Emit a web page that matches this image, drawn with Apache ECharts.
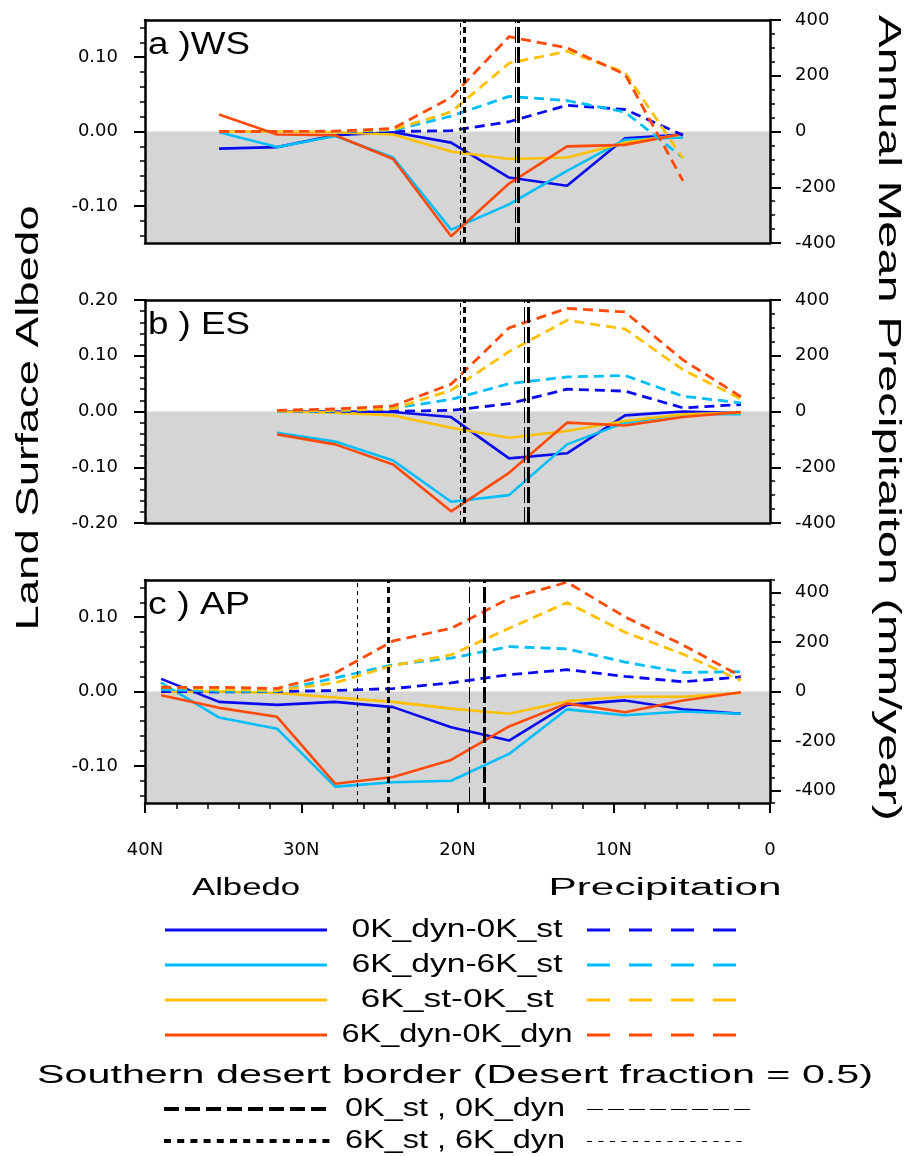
<!DOCTYPE html>
<html><head><meta charset="utf-8">
<script src="https://cdn.jsdelivr.net/npm/echarts@6/dist/echarts.min.js"></script>
<style>html,body{margin:0;padding:0;background:#fff}#c{width:907px;height:1156px}</style>
</head><body><div id="c"></div><script>
// ---------------- DATA ----------------
const lats = [38.97, 35.26, 31.55, 27.83, 24.12, 20.41, 16.70, 12.99, 9.28, 5.57, 1.86];

// a) WS  - land surface albedo differences
const wsAlb_0Kdyn_0Kst  = [null, -0.023, -0.021, -0.005, -0.001, -0.015, -0.062, -0.073, -0.009, -0.004, null];
const wsAlb_6Kdyn_6Kst  = [null, -0.001, -0.021, -0.006, -0.035, -0.132, -0.098, -0.053, -0.011, -0.008, null];
const wsAlb_6Kst_0Kst   = [null,  0.000,  0.000, -0.001, -0.004, -0.027, -0.037, -0.035, -0.015, -0.004, null];
const wsAlb_6Kdyn_0Kdyn = [null,  0.023, -0.004, -0.005, -0.037, -0.141, -0.070, -0.020, -0.018, -0.003, null];
// a) WS  - annual mean precipitation differences (mm/year)
const wsPre_0Kdyn_0Kst  = [null, 0, 0, 0,  0,   3,  35,  94,  79,  -13, null];
const wsPre_6Kdyn_6Kst  = [null, 0, 0, 0,  4,  55, 126, 111,  70,  -94, null];
const wsPre_6Kst_0Kst   = [null, 0, 0, 0,  7,  70, 245, 288, 212,  -96, null];
const wsPre_6Kdyn_0Kdyn = [null, 0, 0, 1, 11, 122, 340, 300, 205, -177, null];

// b) ES
const esAlb_0Kdyn_0Kst  = [null, null,  0.000,  0.000, -0.001, -0.010, -0.084, -0.075, -0.007,  0.000, -0.003];
const esAlb_6Kdyn_6Kst  = [null, null, -0.038, -0.054, -0.088, -0.162, -0.150, -0.059, -0.020, -0.005, -0.005];
const esAlb_6Kst_0Kst   = [null, null,  0.000, -0.002, -0.007, -0.029, -0.047, -0.035, -0.017, -0.005, -0.002];
const esAlb_6Kdyn_0Kdyn = [null, null, -0.041, -0.059, -0.095, -0.179, -0.110, -0.020, -0.025, -0.010, -0.001];
const esPre_0Kdyn_0Kst  = [null, null, 0, 0,  1,  4,  28,  80,  73,  13, 25];
const esPre_6Kdyn_6Kst  = [null, null, 0, 1, 12, 43, 100, 124, 129,  55, 31];
const esPre_6Kst_0Kst   = [null, null, 1, 4, 10, 76, 215, 327, 296, 150, 45];
const esPre_6Kdyn_0Kdyn = [null, null, 4, 9, 20, 98, 300, 370, 357, 185, 53];

// c) AP
const apAlb_0Kdyn_0Kst  = [ 0.017, -0.014, -0.018, -0.014, -0.021, -0.048, -0.066, -0.018, -0.012, -0.024, -0.030];
const apAlb_6Kdyn_6Kst  = [ 0.012, -0.035, -0.050, -0.128, -0.122, -0.120, -0.084, -0.024, -0.032, -0.027, -0.030];
const apAlb_6Kst_0Kst   = [-0.001,  0.000, -0.002, -0.008, -0.014, -0.023, -0.030, -0.013, -0.007, -0.007, -0.002];
const apAlb_6Kdyn_0Kdyn = [-0.005, -0.022, -0.034, -0.124, -0.115, -0.092, -0.047, -0.016, -0.028, -0.012, -0.001];
const apPre_0Kdyn_0Kst  = [ 0, -2,  0,  4,  12,  35,  68,  88,  61,  39, 59];
const apPre_6Kdyn_6Kst  = [ 8,  1,  1, 55, 108, 135, 181, 172, 119,  77, 80];
const apPre_6Kst_0Kst   = [19,  8,  4, 35, 105, 148, 255, 359, 239, 151, 44];
const apPre_6Kdyn_0Kdyn = [17, 17, 12, 75, 204, 255, 375, 441, 301, 188, 61];

// southern desert border latitude (desert fraction = 0.5), panels a, b, c
const border0Kst  = [16.10, 15.47, 18.28];
const border0Kdyn = [16.32, 15.74, 19.26];
const border6Kst  = [19.58, 19.58, 24.43];
const border6Kdyn = [19.84, 19.84, 26.41];

// ticks / labels
const panelLabels = ['a )WS', 'b ) ES', 'c ) AP'];
const xTickValues = [40, 30, 20, 10, 0];
const xTickLabels = ['40N', '30N', '20N', '10N', '0'];
const albedoTicks = [[-0.10, 0.00, 0.10], [-0.20, -0.10, 0.00, 0.10, 0.20], [-0.10, 0.00, 0.10]];
const albedoRange = [[-0.15, 0.15], [-0.20, 0.20], [-0.15, 0.15]];
const precipTicks = [-400, -200, 0, 200, 400];
const precipRange = [[-400, 400], [-400, 400], [-450, 450]];
const seriesNames = ['0K_dyn-0K_st', '6K_dyn-6K_st', '6K_st-0K_st', '6K_dyn-0K_dyn'];
const seriesColors = ['#0a0aee', '#00bdfb', '#ffc000', '#ff4a0a'];

const panels = [
  {alb: [wsAlb_0Kdyn_0Kst, wsAlb_6Kdyn_6Kst, wsAlb_6Kst_0Kst, wsAlb_6Kdyn_0Kdyn],
   pre: [wsPre_0Kdyn_0Kst, wsPre_6Kdyn_6Kst, wsPre_6Kst_0Kst, wsPre_6Kdyn_0Kdyn]},
  {alb: [esAlb_0Kdyn_0Kst, esAlb_6Kdyn_6Kst, esAlb_6Kst_0Kst, esAlb_6Kdyn_0Kdyn],
   pre: [esPre_0Kdyn_0Kst, esPre_6Kdyn_6Kst, esPre_6Kst_0Kst, esPre_6Kdyn_0Kdyn]},
  {alb: [apAlb_0Kdyn_0Kst, apAlb_6Kdyn_6Kst, apAlb_6Kst_0Kst, apAlb_6Kdyn_0Kdyn],
   pre: [apPre_0Kdyn_0Kst, apPre_6Kdyn_6Kst, apPre_6Kst_0Kst, apPre_6Kdyn_0Kdyn]}
];

// ---------------- LAYOUT ----------------
const PLOT_LEFT = 145, PLOT_W = 625, PLOT_H = 223;
const PLOT_TOPS = [20, 300, 580];
const TICK_FONT = '"DejaVu Sans", sans-serif';
const NARROW = '"Liberation Sans Narrow", "Liberation Sans", sans-serif';
const HELV = '"Liberation Sans", Arial, sans-serif';

function steps(min, max, step) {
  const out = [];
  for (let k = Math.ceil(min / step - 1e-9); k <= Math.floor(max / step + 1e-9); k++) out.push(+(k * step).toFixed(6));
  return out;
}

const grids = PLOT_TOPS.map(t => ({left: PLOT_LEFT, top: t, width: PLOT_W, height: PLOT_H, containLabel: false}));

const xAxes = [];
const yAxes = [];
const series = [];
const xMain = [];
const axisLineStyle = {color: '#000', width: 2.5};

for (let g = 0; g < 3; g++) {
  const last = g === 2;
  xMain[g] = xAxes.length;
  xAxes.push({
    type: 'value', gridIndex: g, position: 'bottom', min: 0, max: 40, inverse: true, z: 10,
    axisLine: {show: true, onZero: false, lineStyle: axisLineStyle},
    axisTick: {show: last, inside: false, length: 10, customValues: xTickValues, lineStyle: {color: '#000', width: 2}},
    axisLabel: {show: last, customValues: xTickValues, margin: 38, color: '#000', fontSize: 18, fontFamily: TICK_FONT,
      formatter: v => xTickLabels[xTickValues.indexOf(v)]},
    splitLine: {show: false}
  });
  xAxes.push({
    type: 'value', gridIndex: g, position: 'top', min: 0, max: 40, inverse: true, z: 10,
    axisLine: {show: true, onZero: false, lineStyle: axisLineStyle},
    axisTick: {show: false}, axisLabel: {show: false}, splitLine: {show: false}
  });
  if (last) {
    xAxes.push({
      type: 'value', gridIndex: g, position: 'bottom', min: 0, max: 40, inverse: true, z: 10,
      axisLine: {show: false, onZero: false},
      axisTick: {show: true, inside: false, length: 6, customValues: steps(0, 40, 2), lineStyle: {color: '#000', width: 1.5}},
      axisLabel: {show: false}, splitLine: {show: false}
    });
  }
  // left albedo axis (major + minor)
  const yL = yAxes.length;
  yAxes.push({
    type: 'value', gridIndex: g, position: 'left', min: albedoRange[g][0], max: albedoRange[g][1], z: 10,
    axisLine: {show: true, onZero: false, lineStyle: axisLineStyle},
    axisTick: {show: true, inside: false, length: 11, customValues: albedoTicks[g], lineStyle: {color: '#000', width: 2}},
    axisLabel: {show: true, customValues: albedoTicks[g], margin: 27, color: '#000', fontSize: 18, fontFamily: TICK_FONT,
      formatter: v => v.toFixed(2)},
    splitLine: {show: false}
  });
  yAxes.push({
    type: 'value', gridIndex: g, position: 'left', min: albedoRange[g][0], max: albedoRange[g][1], z: 10,
    axisLine: {show: false, onZero: false},
    axisTick: {show: true, inside: false, length: 5, customValues: steps(albedoRange[g][0], albedoRange[g][1], 0.02), lineStyle: {color: '#000', width: 1.5}},
    axisLabel: {show: false}, splitLine: {show: false}
  });
  // right precipitation axis (major + minor)
  const yR = yAxes.length;
  yAxes.push({
    type: 'value', gridIndex: g, position: 'right', min: precipRange[g][0], max: precipRange[g][1], z: 10,
    axisLine: {show: true, onZero: false, lineStyle: axisLineStyle},
    axisTick: {show: true, inside: false, length: 11, customValues: precipTicks, lineStyle: {color: '#000', width: 2}},
    axisLabel: {show: true, customValues: precipTicks, margin: 25, color: '#000', fontSize: 18, fontFamily: TICK_FONT,
      formatter: v => String(v)},
    splitLine: {show: false}
  });
  yAxes.push({
    type: 'value', gridIndex: g, position: 'right', min: precipRange[g][0], max: precipRange[g][1], z: 10,
    axisLine: {show: false, onZero: false},
    axisTick: {show: true, inside: false, length: 5, customValues: steps(precipRange[g][0], precipRange[g][1], 50), lineStyle: {color: '#000', width: 1.5}},
    axisLabel: {show: false}, splitLine: {show: false}
  });

  // grey shading below zero
  series.push({
    type: 'line', xAxisIndex: xMain[g], yAxisIndex: yL, data: [], silent: true, animation: false,
    markArea: {silent: true, animation: false, itemStyle: {color: '#d5d5d5'},
      data: [[{yAxis: 0}, {yAxis: albedoRange[g][0]}]]}
  });
  // desert borders
  series.push({
    type: 'line', xAxisIndex: xMain[g], yAxisIndex: yL, data: [], silent: true, animation: false,
    markLine: {silent: true, animation: false, symbol: ['none', 'none'], label: {show: false},
      data: [
        {xAxis: border6Kdyn[g], lineStyle: {color: '#000', width: 1, type: [4, 4]}},
        {xAxis: border6Kst[g],  lineStyle: {color: '#000', width: 3, type: [6, 4]}},
        {xAxis: border0Kdyn[g], lineStyle: {color: '#000', width: 1, type: [16, 4]}},
        {xAxis: border0Kst[g],  lineStyle: {color: '#000', width: 3, type: [16, 4]}}
      ]}
  });
  // data lines
  for (let s = 0; s < 4; s++) {
    series.push({
      type: 'line', name: seriesNames[s] + ' albedo', xAxisIndex: xMain[g], yAxisIndex: yL,
      data: lats.map((x, i) => [x, panels[g].alb[s][i]]).filter(p => p[1] !== null),
      showSymbol: false, symbol: 'none', silent: true, animation: false,
      lineStyle: {color: seriesColors[s], width: 2.6}
    });
  }
  for (let s = 0; s < 4; s++) {
    series.push({
      type: 'line', name: seriesNames[s] + ' precipitation', xAxisIndex: xMain[g], yAxisIndex: yR,
      data: lats.map((x, i) => [x, panels[g].pre[s][i]]).filter(p => p[1] !== null),
      showSymbol: false, symbol: 'none', silent: true, animation: false,
      lineStyle: {color: seriesColors[s], width: 2.8, type: [10, 6]}
    });
  }
}

// ---------------- TEXT / LEGEND GRAPHICS ----------------
const measureCtx = document.createElement('canvas').getContext('2d');
function txt(str, x, y, size, family, target, align, rot) {
  measureCtx.font = size + 'px ' + family;
  const w = measureCtx.measureText(str).width;
  return {
    type: 'text', x: x, y: y, rotation: rot || 0, scaleX: target ? target / w : 1, silent: true, z: 100,
    style: {text: str, fontSize: size, fontFamily: family, fill: '#000',
      textAlign: align || 'center', textVerticalAlign: 'middle'}
  };
}
function seg(x1, y1, x2, y2, color, width, dash) {
  return {type: 'line', silent: true, z: 100,
    shape: {x1: x1, y1: y1, x2: x2, y2: y2},
    style: {stroke: color, lineWidth: width, lineDash: dash || null}};
}

const graphics = [];
// panel labels
PLOT_TOPS.forEach((t, g) => graphics.push(txt(panelLabels[g], 148, t + 25, 31, HELV, 102, 'left')));
// axis titles
graphics.push(txt('Land Surface Albedo', 29, 418, 32, NARROW, 425, 'center', Math.PI / 2));
graphics.push(txt('Annual Mean Precipitaiton (mm/year)', 888, 418, 31, NARROW, 806, 'center', -Math.PI / 2));
// legend headers
graphics.push(txt('Albedo', 246, 889, 23, NARROW, 108, 'center'));
graphics.push(txt('Precipitation', 665, 889, 23, NARROW, 233, 'center'));
const legendRowY = [930, 965, 1000, 1035];
const legendTextW = [211, 211, 193, 231];
seriesNames.forEach((nm, s) => {
  const y = legendRowY[s];
  graphics.push(seg(165, y, 327, y, seriesColors[s], 3));
  graphics.push(txt(nm, 457, y, 25, NARROW, legendTextW[s], 'center'));
  graphics.push(seg(587, y, 736, y, seriesColors[s], 3, [23, 19]));
});
graphics.push(txt('Southern desert border (Desert fraction = 0.5)', 455, 1076, 25, NARROW, 836, 'center'));
graphics.push(seg(164, 1109, 330, 1109, '#000', 4, [15, 6]));
graphics.push(txt('0K_st , 0K_dyn', 455, 1109, 25, NARROW, 220, 'center'));
graphics.push(seg(587, 1109.5, 751, 1109.5, '#000', 1, [16, 5]));
graphics.push(seg(164, 1141, 330, 1141, '#000', 4, [7, 6.2]));
graphics.push(txt('6K_st , 6K_dyn', 455, 1141, 25, NARROW, 220, 'center'));
graphics.push(seg(587, 1141.5, 748, 1141.5, '#000', 1, [5, 6.5]));

const chart = echarts.init(document.getElementById('c'), null, {renderer: 'canvas'});
chart.setOption({
  animation: false,
  backgroundColor: '#fff',
  grid: grids,
  xAxis: xAxes,
  yAxis: yAxes,
  series: series,
  graphic: graphics
});
</script></body></html>
